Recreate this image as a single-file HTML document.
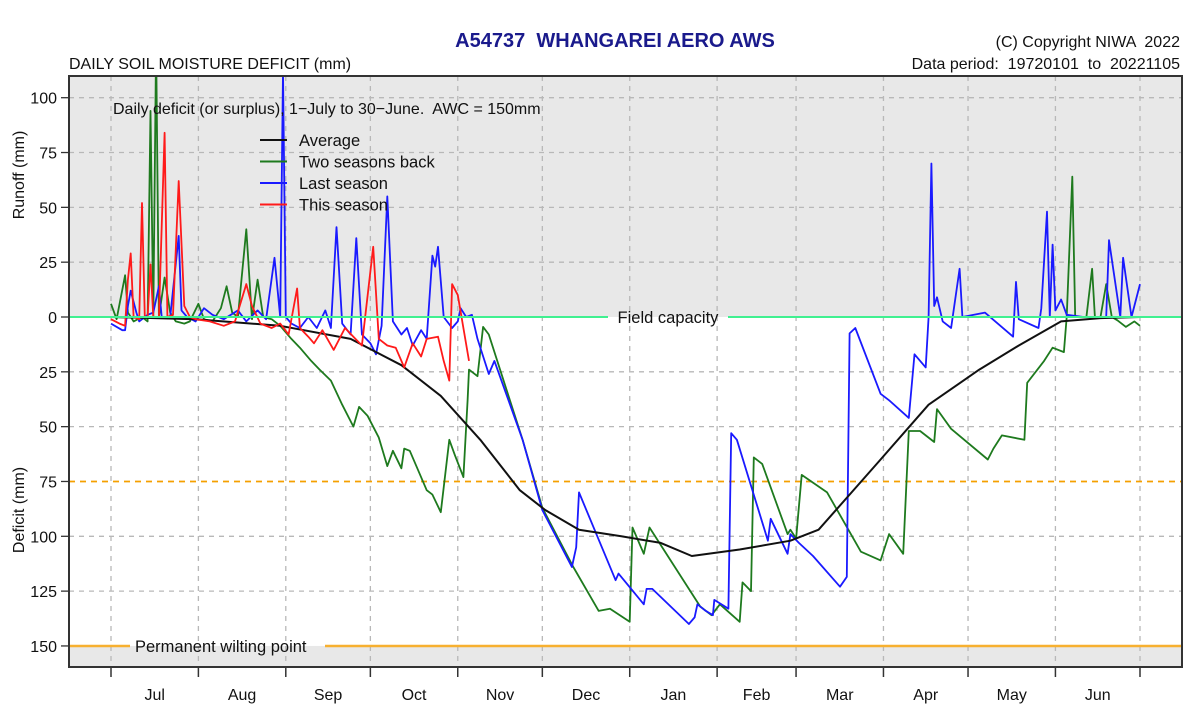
<!DOCTYPE html>
<html><head><meta charset="utf-8"><style>
body{margin:0;background:#fff;}
svg{display:block;font-family:"Liberation Sans",Arial,sans-serif;}
svg text{white-space:pre;}
</style></head><body>
<svg id="chart" width="1200" height="717" viewBox="0 0 1200 717">
<defs><clipPath id="plotclip"><rect x="69" y="76" width="1113" height="591"/></clipPath></defs>
<text x="615" y="47" text-anchor="middle" font-size="20" font-weight="bold" fill="#1a1a8c" xml:space="preserve">A54737  WHANGAREI AERO AWS</text>
<text x="1180" y="47" text-anchor="end" font-size="16" fill="#111" xml:space="preserve">(C) Copyright NIWA  2022</text>
<text x="1180" y="69" text-anchor="end" font-size="16" fill="#111" xml:space="preserve">Data period:  19720101  to  20221105</text>
<text x="69" y="69" font-size="16" fill="#111">DAILY SOIL MOISTURE DEFICIT (mm)</text>
<g id="plot"></g>
<text transform="translate(24,175) rotate(-90)" text-anchor="middle" font-size="16" fill="#111">Runoff (mm)</text>
<text transform="translate(24,510) rotate(-90)" text-anchor="middle" font-size="16" fill="#111">Deficit (mm)</text>
</svg>
<script>
const months=["Jul","Aug","Sep","Oct","Nov","Dec","Jan","Feb","Mar","Apr","May","Jun"];
const monthStartDays=[0,31,62,92,123,153,184,215,243,274,304,335,365];
const runoffTicks=[100,75,50,25,0];
const deficitTicks=[25,50,75,100,125,150];
const avgDays=[0,30,60,85,103,117,131,145,154,166,181,195,206,223,241,251,262,273,290,308,322,337,351,365];
const avgVals=[0,-1,-4,-10,-22,-36,-56,-79,-88,-97,-100,-103,-109,-106,-102,-97,-81,-65,-40,-24,-13,-2,-0.5,0];
const greenDays=[0,2,5,6,8,11,13,14,15,16,17,19,21,23,26,28,31,33,36,39,41,43,45,48,50,52,54,57,60,64,67,71,74,78,82,86,88,91,95,98,100,103,104,106,112,114,117,120,122,125,126.5,127,130,132,134,146,153,164,173,177,184,185,189,191,209,213,216,223,224,227,228,231,240,241,243,245,254,266,273,276,281,283,287,292,293,298,311,313,316,324,325,331,334,338,339,341,342,346,348,349,351,353,355,357,360,363,365];
const greenVals=[6,-1,19,2,-2,0,-2,94,0,125,0,18,2,-2,-3,-2,6,-1,-2,4,14,2,0,40,-1,17,0,-1,-4,-10,-14,-20,-24,-29,-40,-50,-41,-45,-55,-68,-61,-69,-60,-61,-79,-81,-89,-56,-63,-73,-38,-24,-27,-4.5,-8,-56,-87,-114,-134,-133,-139,-96,-108,-96,-132,-136,-131,-139,-121,-125,-64,-67,-99,-97,-101,-72,-80,-107,-111,-99,-108,-52,-52,-57,-42,-51,-65,-60,-54,-56,-30,-20,-14,-16,0,64,0,0,22,0,0,15,0,-1.5,-4.5,-2,-4];
const blueDays=[0,4,5,6,7,9,10,13,15,17,18,21,24,25,27,30,33,36,40,45,48,52,55,58,60,61,62,64,67,70,73,76,78,80,82,85,87,89,92,94,96,98,100,103,105,107,110,112,114,115,116,118,121,123,124,126,128,130,134,136,146,153,163.5,165,166,179,180,189,190,192,205,207,208,211,213.5,214,219,220,222,233,234,240,241,244,249,258.6,261,262,264,273,276,283,285,289,290,291,292,293,295,298,301,302,310,320,321,322,329,330,332,333,334,335,337,339,345,353,354,358,359,362,365];
const blueVals=[-3,-6,-6,5,12,2,-2,1,2,14,0,0,37,3,0,-2,4,1,-1,3,-2,3,-1,27,0,112,0,-3,-5,0,-5,3,-5,41,-3,-8,36,-8,-12,-17,-4,55,-2,-8,-5,-13,-6,-10,28,23,32,0,-5,-2,4,0,1,-10,-26,-20,-56,-88,-114,-105,-80,-120,-117,-131,-124,-124,-140,-137,-131,-134,-136,-129,-133,-53,-56,-102,-92,-108,-99,-103,-109,-123,-118.5,-7.5,-5,-35,-38,-46,-17,-23,0,70,5,9,-2,-5,22,0,2,-9,16,-1,-5,4,48,0,33,3,8,1,0,0,35,0,27,0,15,0];
const redDays=[0,3,5,6,7,8,10,11,12,13,14,15,17,19,20,22,24,26,28,30,35,40,44,48,50,53,57,60,63,66,67,70,72,75,79,83,86,89,93,95,98,101,104,107,110,112,116,118,120,121,123,127];
const redVals=[-1,-3,-4,17,29,0,-1,52,0,0,24,0,0,84,0,1,62,5,0,-1,-2,-4,-2,15,5,-3,-5,-3,-8,13,-5,-9,-12,-6,-15,-5,-9,-13,32,-10,-13,-14,-23,-12,-18,-10,-9,-20,-29,15,10,-20];

const X0=111,X1=1140,Y0=317,PX=2.193,L=69,R=1182,T=76,B=667;
function xd(d){return X0+d*(X1-X0)/365;}
function yv(v){return Y0-v*PX;}
const NS="http://www.w3.org/2000/svg";
const plot=document.getElementById('plot');
function mk(tag,attrs,parent){const e=document.createElementNS(NS,tag);for(const k in attrs)e.setAttribute(k,attrs[k]);(parent||plot).appendChild(e);return e;}

let e=mk('rect',{x:L,y:T,width:R-L,height:B-T,fill:'#e8e8e8'});


e=mk('rect',{x:L,y:yv(0),width:R-L,height:yv(-150)-yv(0),fill:'#ffffff'});



runoffTicks.forEach(v=>{
  const y=yv(v);
  if(v!==0){e=mk('line',{x1:L,x2:R,y1:y,y2:y,stroke:'#b8b8b8','stroke-dasharray':'5,5','stroke-width':1.3});
  
  }
  e=mk('line',{x1:L-8,x2:L,y1:y,y2:y,stroke:'#333','stroke-width':1.3});
  
  
  e=mk('text',{x:L-12,y:y+6,'text-anchor':'end','font-size':16,fill:'#111'});e.textContent=v;
  
  
});
deficitTicks.forEach(v=>{
  const y=yv(-v);
  if(v!==150&&v!==75){e=mk('line',{x1:L,x2:R,y1:y,y2:y,stroke:'#b8b8b8','stroke-dasharray':'5,5','stroke-width':1.3});
  
  }
  e=mk('line',{x1:L-8,x2:L,y1:y,y2:y,stroke:'#333','stroke-width':1.3});
  
  
  e=mk('text',{x:L-12,y:y+6,'text-anchor':'end','font-size':16,fill:'#111'});e.textContent=v;
  
  
});
monthStartDays.forEach((d,i)=>{
  const x=xd(d);
  e=mk('line',{x1:x,x2:x,y1:T,y2:B,stroke:'#b8b8b8','stroke-dasharray':'5,5','stroke-width':1.3});
  
  
  e=mk('line',{x1:x,x2:x,y1:B,y2:B+10,stroke:'#333','stroke-width':1.5});
  
  
  if(i<months.length){
    e=mk('text',{x:(xd(d)+xd(monthStartDays[i+1]))/2,y:700,'text-anchor':'middle','font-size':16,fill:'#111'});e.textContent=months[i];
    
    
  }
});
e=mk('line',{x1:L,x2:R,y1:yv(-75),y2:yv(-75),stroke:'#f5a000','stroke-dasharray':'6,5','stroke-width':1.8});


e=mk('line',{x1:L,x2:130,y1:yv(-150),y2:yv(-150),stroke:'#f7b030','stroke-width':2.5});


e=mk('line',{x1:325,x2:R,y1:yv(-150),y2:yv(-150),stroke:'#f7b030','stroke-width':2.5});


e=mk('text',{x:135,y:yv(-150)+6,'font-size':16.5,fill:'#111'});e.textContent='Permanent wilting point';



const g=mk('g',{'clip-path':'url(#plotclip)'});
function series(days,vals,color,name,w){
  const pts=days.map((d,i)=>xd(d).toFixed(1)+','+yv(vals[i]).toFixed(1)).join(' ');
  const p=mk('polyline',{points:pts,fill:'none',stroke:color,'stroke-width':w,'stroke-linejoin':'round'},g);
  
  
}
series(greenDays,greenVals,'#1e7a1e','two-seasons-back-line',1.8);
series(blueDays,blueVals,'#1a1aff','last-season-line',1.8);
series(avgDays,avgVals,'#111','average-line',2);
series(redDays,redVals,'#ff1a1a','this-season-line',1.8);

e=mk('line',{x1:L,x2:608,y1:Y0,y2:Y0,stroke:'#40f090','stroke-width':2});


e=mk('line',{x1:728,x2:R,y1:Y0,y2:Y0,stroke:'#40f090','stroke-width':2});


e=mk('text',{x:668,y:Y0+6,'text-anchor':'middle','font-size':16.5,fill:'#111'});e.textContent='Field capacity';



e=mk('text',{x:113,y:114,'font-size':16,fill:'#111'});e.textContent='Daily deficit (or surplus), 1\u2212July to 30\u2212June.  AWC = 150mm';
e.setAttribute('xml:space','preserve');


const legNames=['Average','Two seasons back','Last season','This season'];
const legColors=['#111','#1e7a1e','#1a1aff','#ff1a1a'];
legNames.forEach((n,i)=>{
  const y=140+i*21.5;
  e=mk('line',{x1:260,x2:287,y1:y,y2:y,stroke:legColors[i],'stroke-width':2});
  
  
  e=mk('text',{x:299,y:y+6,'font-size':16.5,fill:'#111'});e.textContent=n;
  
  
});
e=mk('rect',{x:L,y:T,width:R-L,height:B-T,fill:'none',stroke:'#333','stroke-width':2});


</script>
</body></html>
